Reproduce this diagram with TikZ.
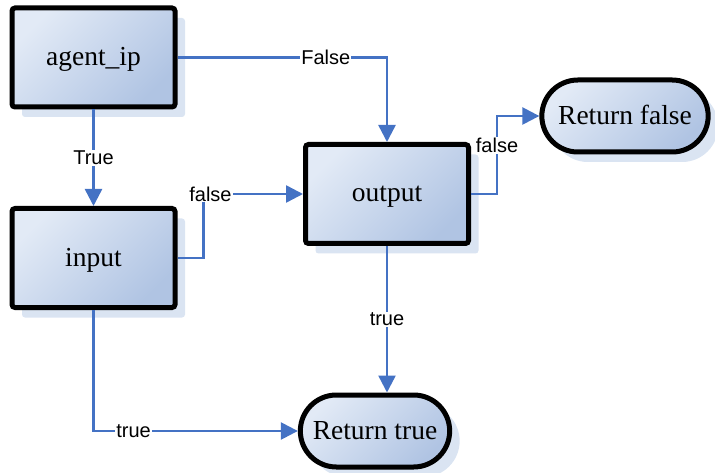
\documentclass[tikz,border=0pt]{standalone}
\usepackage{fontspec}
\setmainfont{Liberation Serif}
\newfontfamily\labelfont{Liberation Sans}
\usetikzlibrary{arrows.meta,shapes.misc,shadows}
\definecolor{flowblue}{RGB}{68,114,196}
\definecolor{fillhi}{RGB}{226,234,246}
\definecolor{filllo}{RGB}{176,196,227}
\definecolor{shadowc}{RGB}{218,228,242}
\tikzset{
  procbox/.style={rectangle, rounded corners=3pt, draw=black, line width=5pt,
    top color=fillhi, bottom color=filllo, shading angle=45,
    minimum width=163pt, minimum height=99pt, font=\fontsize{27.5}{30}\selectfont,
    text height=16pt, text depth=0pt,
    general shadow={fill=shadowc, shadow xshift=10pt, shadow yshift=-10pt}},
  termbox/.style={rounded rectangle, draw=black, line width=5pt,
    top color=fillhi, bottom color=filllo, shading angle=45,
    minimum height=72pt, font=\fontsize{27.5}{30}\selectfont,
    text height=17pt, text depth=0pt,
    general shadow={fill=shadowc, shadow xshift=10pt, shadow yshift=-10pt}},
  flow/.style={draw=flowblue, line width=2.5pt, -{Triangle[length=17pt,width=17pt]}},
  flowlabel/.style={fill=white, inner sep=1pt, font=\labelfont\fontsize{20}{22}\selectfont, text=black},
}
\begin{document}
\begin{tikzpicture}[x=1pt,y=-1pt]
\useasboundingbox (0,0) rectangle (715,473);

% process boxes
\node[procbox] (agent)  at (93.5,57.5)  {agent\_ip};
\node[procbox] (input)  at (93.5,258)   {input};
\node[procbox] (output) at (387,194)    {output};

% terminals
\node[termbox, minimum width=173pt] (rfalse) at (625,116) {Return false};
\node[termbox, minimum width=156pt] (rtrue)  at (375,431) {Return true};

% connectors
\draw[flow] (agent.east) -| (output.north)
  node[flowlabel, pos=0.354] {False};
\draw[flow] (agent.south) -- (input.north)
  node[flowlabel, pos=0.5] {True};
\draw[flow] (input.east) -- ++(26,0) |- (output.west)
  node[flowlabel, pos=0.5, xshift=7pt] {false};
\draw[flow] (output.east) -- ++(26,0) |- (rfalse.west)
  node[flowlabel, pos=0.31] {false};
\draw[flow] (output.south) -- (output.south |- rtrue.north)
  node[flowlabel, pos=0.5] {true};
\draw[flow] (input.south) |- (rtrue.west)
  node[flowlabel, pos=0.598] {true};
\end{tikzpicture}
\end{document}
